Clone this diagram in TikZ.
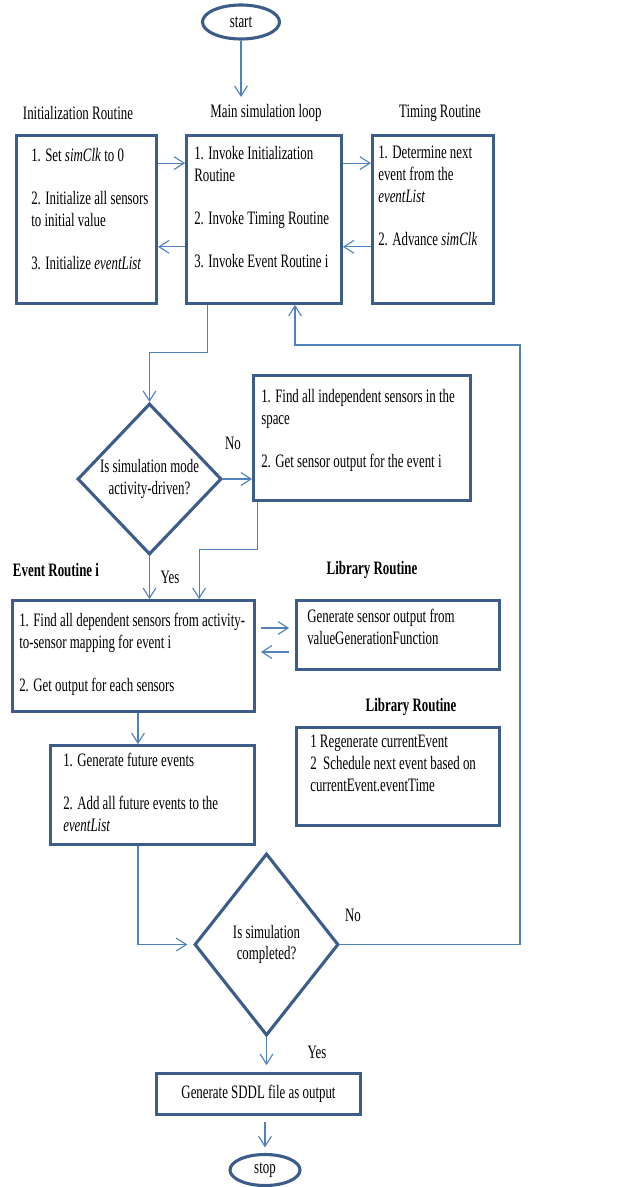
\documentclass[tikz,border=0pt]{standalone}
\usepackage{fontspec}
\setmainfont{Liberation Serif}[FakeStretch=0.68]
\usepackage{tikz}
\usetikzlibrary{arrows.meta, positioning, shapes.geometric, calc}
\definecolor{boxblue}{RGB}{60, 92, 138}
\definecolor{flowblue}{RGB}{79, 129, 189}

\begin{document}
\begin{tikzpicture}[
    x=0.025cm, y=-0.025cm,
    box/.style={rectangle, draw=boxblue, line width=2pt, inner sep=0pt},
    terminal/.style={ellipse, draw=boxblue, line width=2.2pt, inner sep=0pt},
    decision/.style={diamond, draw=boxblue, line width=2.2pt, inner sep=0pt, align=center},
    boxtext/.style={anchor=north west, align=left, inner sep=0pt},
    headline/.style={inner sep=0pt},
    boldhead/.style={inner sep=0pt, font=\fontsize{13.5}{15.4}\selectfont\bfseries},
    flowline/.style={-{Straight Barb[length=2.5mm, width=3.2mm]}, draw=flowblue, line width=0.8pt},
    font=\fontsize{13.5}{15.4}\selectfont
]
\useasboundingbox (0,0) rectangle (636,1187);

% Start
\node[terminal, minimum width=1.925cm, minimum height=0.85cm] (start) at (241,22) {start};
\coordinate (startend) at (241,97);

% Column headings
\node[headline] (initlbl) at (78,113) {Initialization Routine};
\node[headline] (mainlbl) at (266,113) {Main simulation loop};
\node[headline] (timelbl) at (440,113) {Timing Routine};

% Main loop with initialization and timing routines
\node[box, minimum width=3.875cm, minimum height=4.2cm] (main) at (264,219.5) {};
\node[box, minimum width=3.5cm, minimum height=4.2cm, left=0.675cm of main] (init) {};
\node[box, minimum width=3.025cm, minimum height=4.2cm, right=0.7cm of main] (timing) {};

\node[boxtext] (inittxt) at (31,148) {1. Set \textit{simClk} to 0\\[15.4pt] 2. Initialize all sensors\\ to initial value\\[15.4pt] 3. Initialize \textit{eventList}};
\node[boxtext] (maintxt) at (194,146) {1. Invoke Initialization\\ Routine\\[15.4pt] 2. Invoke Timing Routine\\[15.4pt] 3. Invoke Event Routine i};
\node[boxtext] (timetxt) at (378,146) {1. Determine next\\ event from the\\ \textit{eventList}\\[15.4pt] 2. Advance \textit{simClk}};

% Simulation mode decision
\node[decision, minimum width=3.6cm, minimum height=3.775cm] (mode) at (149.5,479) {Is simulation mode\\activity-driven?};
\node[box, minimum width=5.425cm, minimum height=3.125cm] (indep) at (362,438) {};
\node[boxtext] (indeptxt) at (261,389) {1. Find all independent sensors in the\\ space\\[15.4pt] 2. Get sensor output for the event i};
\node[headline] (no1) at (233,443) {No};
\node[headline] (yes1) at (170,577) {Yes};

% Event routine and library routines
\node[boldhead] (evlbl) at (56,570) {Event Routine i};
\node[box, minimum width=6.05cm, minimum height=2.775cm] (event) at (133.5,656) {};
\node[boxtext] (eventtxt) at (19,613) {1. Find all dependent sensors from activity-\\ to-sensor mapping for event i\\[15.4pt] 2. Get output for each sensors};

\node[boldhead] (liblbl1) at (372,570) {Library Routine};
\node[box, minimum width=5.075cm, minimum height=1.725cm] (lib1) at (398,635) {};
\node[boxtext] (lib1txt) at (307,609) {Generate sensor output from\\ valueGenerationFunction};

\node[boldhead] (liblbl2) at (411,707) {Library Routine};
\node[box, minimum width=5.075cm, minimum height=2.45cm] (lib2) at (398,776.5) {};
\node[boxtext] (lib2txt) at (310,735) {1 Regenerate currentEvent\\ 2\ \ Schedule next event based on\\ currentEvent.eventTime};

\node[box, minimum width=5.1cm, minimum height=2.475cm] (future) at (152.5,795) {};
\node[boxtext] (futuretxt) at (63,753) {1. Generate future events\\[15.4pt] 2. Add all future events to the\\ \textit{eventList}};

% Completion decision and output
\node[decision, minimum width=3.6cm, minimum height=4.55cm] (done) at (266.5,944.5) {Is simulation\\completed?};
\node[headline] (no2) at (353,915) {No};
\node[headline] (yes2) at (317,1052) {Yes};
\node[box, minimum width=5.1cm, minimum height=1.025cm] (output) at (258.5,1094) {Generate SDDL file as output};
\node[terminal, minimum width=1.75cm, minimum height=0.775cm] (stop) at (265,1170) {stop};

% Arrows: top row
\draw[flowline] (start) -- (startend);
\draw[flowline] ($(init.north east)!0.17!(init.south east)$) -- ($(main.north west)!0.17!(main.south west)$);
\draw[flowline] ($(main.north west)!0.66!(main.south west)$) -- ($(init.north east)!0.66!(init.south east)$);
\draw[flowline] ($(main.north east)!0.17!(main.south east)$) -- ($(timing.north west)!0.17!(timing.south west)$);
\draw[flowline] ($(timing.north west)!0.66!(timing.south west)$) -- ($(main.north east)!0.66!(main.south east)$);

% Arrows: mode decision
\draw[flowline] ($(main.south west)!0.14!(main.south east)$) -- ++(0,48) -| (mode.north);
\draw[flowline] (mode.east) -- (mode.east -| indep.west);
\draw[flowline] ($(indep.south west)+(5,0)$) -- ++(0,48) -| ($(event.north west)+(188,0)$);
\draw[flowline] (mode.south) -- (mode.south |- event.north);

% Arrows: event routine
\draw[flowline] ($(event.east |- 0,628)+(5,0)$) -- ($(lib1.west |- 0,628)+(-6,0)$);
\draw[flowline] ($(lib1.west |- 0,652)+(-6,0)$) -- ($(event.east |- 0,652)+(5,0)$);
\draw[flowline] (event.south -| 138,0) -- (future.north -| 138,0);
\draw[flowline, shorten >=4pt] (future.south -| 138,0) |- (done.west);

% Arrows: loop back and finish
\draw[flowline] (done.east) -| (520,345) -| (main.south -| 295,0);
\draw[flowline, shorten >=5pt] (done.south) -- (done.south |- output.north);
\draw[flowline, shorten <=4pt, shorten >=4pt] (output.south -| stop.north) -- (stop.north);

\end{tikzpicture}
\end{document}
